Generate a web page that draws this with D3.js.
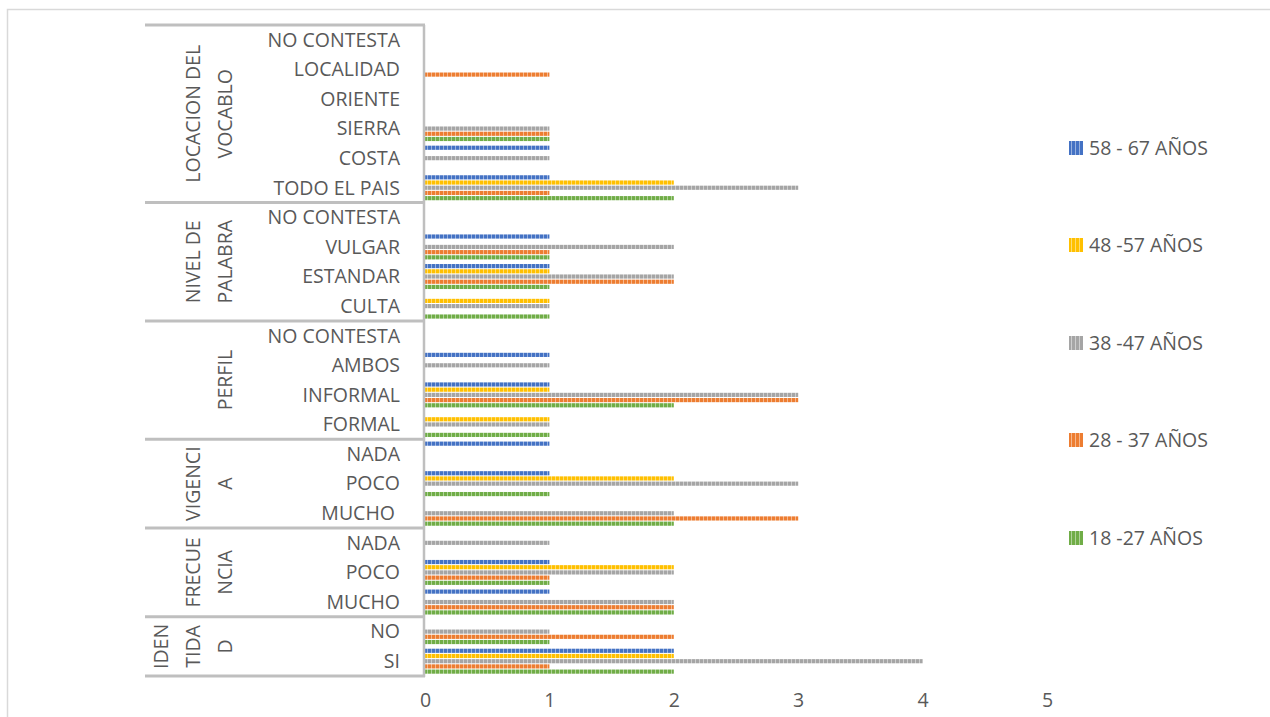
<!DOCTYPE html>
<html>
<head>
<meta charset="utf-8">
<script src="https://cdn.jsdelivr.net/npm/d3@7"></script>
<style>
  html, body { margin: 0; padding: 0; background: #fff; }
  svg { display: block; font-family: "Open Sans", "Noto Sans", sans-serif; }
</style>
</head>
<body>
<svg id="chart" width="1270" height="717"></svg>
<script>
// Grouped categories, listed bottom to top as they are stacked on the axis
const groups = [
  { name: ["IDEN", "TIDA", "D"], items: ["SI", "NO"] },
  { name: ["FRECUE", "NCIA"], items: ["MUCHO", "POCO", "NADA"] },
  { name: ["VIGENCI", "A"], items: ["MUCHO\u00a0", "POCO", "NADA"] },
  { name: ["PERFIL"], items: ["FORMAL", "INFORMAL", "AMBOS", "NO CONTESTA"] },
  { name: ["NIVEL DE", "PALABRA"], items: ["CULTA", "ESTANDAR", "VULGAR", "NO CONTESTA"] },
  { name: ["LOCACION DEL", "VOCABLO"], items: ["TODO EL PAIS", "COSTA", "SIERRA", "ORIENTE", "LOCALIDAD", "NO CONTESTA"] }
];

// Age ranges (legend order, top to bottom)
const seriesNames = ["58 - 67 AÑOS", "48 -57 AÑOS", "38 -47 AÑOS", "28 - 37 AÑOS", "18 -27 AÑOS"];
const seriesColors = ["#4472c4", "#ffc000", "#a5a5a5", "#ed7d31", "#70ad47"];

// Values per category, in the same order as the groups/items above
const v58_67 = [2, 0,  1, 1, 0,  0, 1, 1,  0, 1, 1, 0,  0, 1, 1, 0,  1, 1, 0, 0, 0, 0];
const v48_57 = [2, 0,  0, 2, 0,  0, 2, 0,  1, 1, 0, 0,  1, 1, 0, 0,  2, 0, 0, 0, 0, 0];
const v38_47 = [4, 1,  2, 2, 1,  2, 3, 0,  1, 3, 1, 0,  1, 2, 2, 0,  3, 1, 1, 0, 0, 0];
const v28_37 = [1, 2,  2, 1, 0,  3, 0, 0,  0, 3, 0, 0,  0, 2, 1, 0,  1, 0, 1, 0, 1, 0];
const v18_27 = [2, 1,  2, 1, 0,  2, 1, 0,  1, 2, 0, 0,  1, 1, 1, 0,  2, 0, 1, 0, 0, 0];
const seriesValues = [v58_67, v48_57, v38_47, v28_37, v18_27];

const xTicks = [0, 1, 2, 3, 4, 5];

// Flatten categories with a unique key
const cats = [];
groups.forEach((g, gi) => g.items.forEach((it, ii) => cats.push({ key: gi + "-" + ii, label: it, group: gi })));

const svg = d3.select("#chart");
const textColor = "#595959";
const axisColor = "#bfbfbf";
const fontSize = 19.5;

// Outer chart border
svg.append("rect")
  .attr("x", 7.5).attr("y", 9.5).attr("width", 1300).attr("height", 800)
  .attr("fill", "none").attr("stroke", "#d9d9d9").attr("stroke-width", 1.5);

const x = d3.scaleLinear().domain([0, 5]).range([425, 1047]);
// Categories drawn top to bottom: reverse of data order
const y = d3.scaleBand().domain(cats.map(c => c.key).reverse()).range([25, 676]);
const ySub = d3.scaleBand().domain(seriesNames).range([2.3, y.bandwidth() - 2.3]).paddingInner(0.2);

// Stripe patterns for the bars
const defs = svg.append("defs");
seriesColors.forEach((c, i) => {
  const p = defs.append("pattern")
    .attr("id", "pat" + i).attr("patternUnits", "userSpaceOnUse")
    .attr("width", 4).attr("height", 4);
  p.append("rect").attr("width", 4).attr("height", 4).attr("fill", c);
  p.append("rect").attr("x", 3).attr("width", 1).attr("height", 4).attr("fill", "#fff").attr("opacity", 0.45);
});

// Bars
seriesNames.forEach((s, si) => {
  svg.append("g").selectAll("rect")
    .data(cats.map((c, ci) => ({ key: c.key, v: seriesValues[si][ci] })).filter(d => d.v > 0))
    .join("rect")
    .attr("x", x(0))
    .attr("y", d => y(d.key) + ySub(s))
    .attr("width", d => x(d.v) - x(0))
    .attr("height", ySub.bandwidth())
    .attr("fill", "url(#pat" + si + ")");
});

// X axis labels (no axis line)
const xAxis = d3.axisBottom(x).tickValues(xTicks).tickFormat(d3.format("d")).tickSize(0).tickPadding(0);
const gx = svg.append("g").attr("transform", "translate(0,693)").call(xAxis);
gx.select(".domain").remove();
gx.selectAll("text").attr("fill", textColor).attr("font-size", fontSize)
  .attr("font-family", "'Open Sans', sans-serif");

// Category axis: labels
const gy = svg.append("g");
gy.selectAll("text.cat")
  .data(cats)
  .join("text")
  .attr("class", "cat")
  .attr("x", 400)
  .attr("y", d => y(d.key) + y.bandwidth() / 2)
  .attr("dy", "0.35em")
  .attr("text-anchor", "end")
  .attr("font-size", fontSize)
  .attr("fill", textColor)
  .text(d => d.label);

// Vertical axis line
gy.append("line")
  .attr("x1", 424).attr("x2", 424).attr("y1", 25).attr("y2", 677)
  .attr("stroke", axisColor).attr("stroke-width", 2.5);

// Group separators
let idx = 0;
const boundaries = [0];
groups.forEach(g => { idx += g.items.length; boundaries.push(idx); });
boundaries.forEach(b => {
  const key = b < cats.length ? cats[b].key : null;
  const yy = key ? y(key) + y.bandwidth() : 25;
  gy.append("line")
    .attr("x1", 145).attr("x2", 425).attr("y1", yy).attr("y2", yy)
    .attr("stroke", axisColor).attr("stroke-width", 3);
});

// Group labels, rotated, wrapped lines
groups.forEach((g, gi) => {
  const first = cats.findIndex(c => c.group === gi);
  const last = first + g.items.length - 1;
  const yTop = y(cats[last].key);
  const yBot = y(cats[first].key) + y.bandwidth();
  const cy = (yTop + yBot) / 2;
  const n = g.name.length;
  g.name.forEach((line, li) => {
    const cx = 225 - (n - 1 - li) * 32;
    gy.append("text")
      .attr("transform", `translate(${cx},${cy}) rotate(-90)`)
      .attr("text-anchor", "middle")
      .attr("dy", "0.35em")
      .attr("font-size", fontSize)
      .attr("fill", textColor)
      .text(line);
  });
});

// Legend
const legendY = [148, 245, 343, 440, 538];
const lg = svg.append("g");
seriesNames.forEach((s, i) => {
  lg.append("rect")
    .attr("x", 1069).attr("y", legendY[i] - 7).attr("width", 14).attr("height", 14)
    .attr("fill", "url(#pat" + i + ")");
  lg.append("text")
    .attr("x", 1089).attr("y", legendY[i]).attr("dy", "0.35em")
    .attr("font-size", fontSize).attr("fill", textColor)
    .text(s);
});
</script>
</body>
</html>
